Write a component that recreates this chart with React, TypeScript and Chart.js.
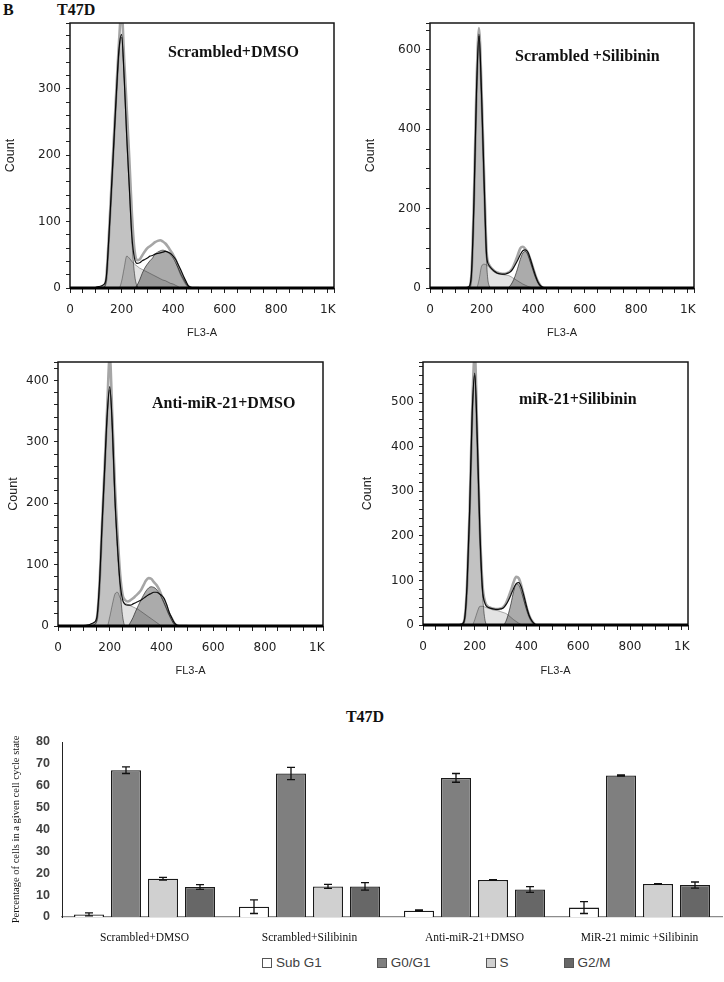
import React, { useEffect, useRef } from 'react';
import { Chart, registerables } from 'chart.js';

Chart.register(...registerables);

// ---------------- Histogram data (FL3-A channel, counts) ----------------
const FL3_X = [100, 110, 120, 130, 140, 150, 160, 170, 180, 190, 200, 210, 220, 230, 240, 250, 260, 270, 280, 290, 300, 310, 320, 330, 340, 350, 360, 370, 380, 390, 400, 410, 420, 430, 440, 450, 460, 470, 480, 490, 500];
const X_MAJOR = [0, 200, 400, 600, 800, 1000];
const X_MAJOR_LABELS = ['0', '200', '400', '600', '800', '1K'];

const PANEL_NAMES = ['Scrambled+DMSO', 'Scrambled +Silibinin', 'Anti-miR-21+DMSO', 'miR-21+Silibinin'];

// Scrambled+DMSO
const SD_G1 = [0, 0, 0, 1, 12, 70, 140, 215, 290, 355, 378, 315, 225, 150, 72, 22, 3, 0, 0, 0, 0, 0, 0, 0, 0, 0, 0, 0, 0, 0, 0, 0, 0, 0, 0, 0, 0, 0, 0, 0, 0];
const SD_S = [0, 0, 0, 0, 0, 0, 0, 0, 0, 0, 10, 30, 48, 45, 40, 36, 33, 30, 28, 26, 24, 22, 20, 18, 16, 14, 12, 11, 9, 7, 6, 4, 2, 0, 0, 0, 0, 0, 0, 0, 0];
const SD_G2 = [0, 0, 0, 0, 0, 0, 0, 0, 0, 0, 0, 0, 0, 0, 0, 0, 4, 12, 22, 30, 36, 41, 45, 51, 54, 56, 57, 56, 54, 50, 45, 38, 30, 21, 14, 7, 2, 0, 0, 0, 0];
const SD_DATA = [1, 2, 3, 5, 14, 72, 145, 220, 295, 360, 382, 318, 228, 152, 78, 45, 37, 38, 41, 43, 45, 48, 49, 51, 52, 53, 54, 55, 54, 52, 48, 43, 35, 27, 18, 10, 3, 1, 0, 0, 0];
const SD_FIT = [0, 0, 1, 2, 13, 73, 148, 225, 300, 370, 420, 345, 270, 195, 112, 58, 42, 43, 49, 55, 60, 63, 66, 69, 71, 72, 70, 67, 62, 56, 50, 42, 32, 22, 14, 7, 2, 0, 0, 0, 0];

// Scrambled +Silibinin
const SS_G1 = [0, 0, 0, 0, 0, 0, 25, 200, 480, 635, 480, 260, 60, 5, 0, 0, 0, 0, 0, 0, 0, 0, 0, 0, 0, 0, 0, 0, 0, 0, 0, 0, 0, 0, 0, 0, 0, 0, 0, 0, 0];
const SS_S = [0, 0, 0, 0, 0, 0, 0, 0, 0, 20, 55, 60, 58, 52, 45, 40, 37, 35, 34, 33, 32, 30, 26, 22, 18, 14, 10, 7, 4, 2, 0, 0, 0, 0, 0, 0, 0, 0, 0, 0, 0];
const SS_G2 = [0, 0, 0, 0, 0, 0, 0, 0, 0, 0, 0, 0, 0, 0, 0, 0, 0, 0, 0, 0, 0, 5, 15, 30, 50, 72, 88, 92, 84, 65, 45, 26, 12, 4, 0, 0, 0, 0, 0, 0, 0];
const SS_DATA = [0, 0, 0, 0, 1, 3, 30, 210, 490, 640, 490, 270, 80, 56, 48, 42, 38, 36, 35, 35, 37, 40, 47, 58, 70, 84, 94, 96, 90, 72, 50, 30, 14, 5, 1, 0, 0, 0, 0, 0, 0];
const SS_FIT = [0, 0, 0, 0, 0, 1, 28, 215, 500, 655, 500, 280, 88, 58, 49, 43, 39, 37, 36, 36, 38, 42, 50, 65, 82, 100, 104, 98, 88, 70, 50, 30, 15, 5, 1, 0, 0, 0, 0, 0, 0];

// Anti-miR-21+DMSO
const AD_G1 = [0, 0, 0, 0, 2, 10, 64, 160, 250, 340, 385, 320, 200, 120, 60, 15, 0, 0, 0, 0, 0, 0, 0, 0, 0, 0, 0, 0, 0, 0, 0, 0, 0, 0, 0, 0, 0, 0, 0, 0, 0];
const AD_S = [0, 0, 0, 0, 0, 0, 0, 0, 0, 0, 15, 35, 52, 55, 46, 40, 37, 35, 33, 31, 29, 27, 24, 21, 18, 15, 12, 9, 6, 3, 0, 0, 0, 0, 0, 0, 0, 0, 0, 0, 0];
const AD_G2 = [0, 0, 0, 0, 0, 0, 0, 0, 0, 0, 0, 0, 0, 0, 0, 0, 0, 0, 6, 14, 24, 33, 42, 50, 57, 62, 64, 63, 60, 54, 47, 38, 28, 18, 9, 3, 0, 0, 0, 0, 0];
const AD_DATA = [0, 1, 2, 4, 6, 14, 68, 165, 255, 345, 390, 325, 210, 130, 70, 42, 35, 34, 34, 36, 38, 40, 42, 45, 48, 51, 53, 55, 55, 53, 50, 45, 35, 22, 13, 5, 1, 0, 0, 0, 0];
const AD_FIT = [0, 0, 1, 2, 4, 12, 66, 165, 258, 355, 440, 340, 230, 150, 85, 50, 42, 40, 42, 45, 49, 53, 58, 66, 74, 78, 77, 72, 67, 60, 50, 40, 30, 20, 12, 4, 1, 0, 0, 0, 0];

// miR-21+Silibinin
const MS_G1 = [0, 0, 0, 0, 0, 0, 10, 86, 250, 470, 560, 410, 200, 70, 10, 0, 0, 0, 0, 0, 0, 0, 0, 0, 0, 0, 0, 0, 0, 0, 0, 0, 0, 0, 0, 0, 0, 0, 0, 0, 0];
const MS_S = [0, 0, 0, 0, 0, 0, 0, 0, 0, 0, 12, 30, 42, 42, 40, 38, 36, 34, 33, 32, 30, 28, 26, 22, 17, 12, 8, 4, 1, 0, 0, 0, 0, 0, 0, 0, 0, 0, 0, 0, 0];
const MS_G2 = [0, 0, 0, 0, 0, 0, 0, 0, 0, 0, 0, 0, 0, 0, 0, 0, 0, 0, 0, 0, 0, 0, 8, 25, 48, 75, 92, 90, 75, 55, 36, 20, 9, 3, 0, 0, 0, 0, 0, 0, 0];
const MS_DATA = [0, 0, 0, 0, 1, 2, 12, 90, 255, 475, 565, 415, 210, 80, 48, 40, 38, 36, 35, 35, 36, 38, 45, 55, 68, 82, 93, 95, 85, 65, 42, 22, 10, 3, 0, 0, 0, 0, 0, 0, 0];
const MS_FIT = [0, 0, 0, 0, 0, 1, 12, 88, 255, 480, 610, 420, 215, 90, 52, 42, 39, 37, 36, 36, 37, 40, 48, 62, 78, 96, 108, 105, 88, 64, 40, 22, 10, 3, 0, 0, 0, 0, 0, 0, 0];

// ---------------- Bar chart data ----------------
const BAR_CATEGORIES = ['Scrambled+DMSO', 'Scrambled+Silibinin', 'Anti-miR-21+DMSO', 'MiR-21 mimic +Silibinin'];
const BAR_SERIES = ['Sub G1', 'G0/G1', 'S', 'G2/M'];
const SUB_G1 = [1.2, 4.7, 2.9, 4.3];
const SUB_G1_ERR = [0.7, 3.1, 0.3, 2.7];
const G0_G1 = [67.1, 65.6, 63.6, 64.7];
const G0_G1_ERR = [1.5, 2.8, 2.0, 0.3];
const S_PHASE = [17.5, 14.0, 16.9, 15.1];
const S_PHASE_ERR = [0.6, 0.9, 0.2, 0.2];
const G2_M = [13.7, 14.0, 12.6, 14.6];
const G2_M_ERR = [1.1, 1.7, 1.3, 1.4];

// ---------------- Styles ----------------
const SANS = '"Liberation Sans", Arial, sans-serif';
const WIDE_SANS = '"DejaVu Sans", Verdana, sans-serif';
const SERIF = '"Liberation Serif", "Times New Roman", serif';
const BAR_COLORS = ['#ffffff', '#7f7f7f', '#d0d0d0', '#676767'];

type Frame = { l: number; t: number; r: number; b: number };
type PanelProps = {
  left: number; top: number; width: number; height: number; frame: Frame;
  yMax: number; yMinor: number; yMajor: number;
  g1: number[]; s: number[]; g2: number[]; data: number[]; fit: number[];
};

const multiplyPlugin = {
  id: 'multiplyBlend',
  beforeDatasetsDraw(chart: any) {
    chart.ctx.save();
    chart.ctx.globalCompositeOperation = 'multiply';
  },
  afterDatasetsDraw(chart: any) {
    chart.ctx.restore();
  },
};

const framePlugin = {
  id: 'plotFrame',
  afterDraw(chart: any) {
    const { ctx, chartArea: a } = chart;
    ctx.save();
    ctx.strokeStyle = '#161616';
    ctx.lineWidth = 1.5;
    ctx.strokeRect(a.left, a.top, a.right - a.left, a.bottom - a.top);
    ctx.lineWidth = 3;
    ctx.strokeStyle = '#000';
    ctx.beginPath();
    ctx.moveTo(a.left, a.bottom);
    ctx.lineTo(a.right, a.bottom);
    ctx.stroke();
    ctx.restore();
  },
};

function Histogram(p: PanelProps) {
  const ref = useRef<HTMLCanvasElement>(null);
  useEffect(() => {
    const toXY = (arr: number[]) => FL3_X.map((x, i) => ({ x, y: arr[i] }));
    const line = { pointRadius: 0, cubicInterpolationMode: 'monotone' as const };
    const chart = new Chart(ref.current as HTMLCanvasElement, {
      type: 'line',
      data: {
        datasets: [
          { label: 'data', data: toXY(p.data), borderColor: '#111111', borderWidth: 1.2, fill: false, ...line },
          { label: 'fit', data: toXY(p.fit), borderColor: '#a6a6a6', borderWidth: 2.6, fill: false, ...line },
          { label: 'G2/M', data: toXY(p.g2), borderColor: '#707070', borderWidth: 1, fill: 'origin', backgroundColor: '#ababab', ...line },
          { label: 'S', data: toXY(p.s), borderColor: '#adadad', borderWidth: 1, fill: 'origin', backgroundColor: '#e3e3e3', ...line },
          { label: 'G0/G1', data: toXY(p.g1), borderColor: '#858585', borderWidth: 1, fill: 'origin', backgroundColor: '#c2c2c2', ...line },
        ],
      } as any,
      options: {
        responsive: false,
        animation: false,
        layout: { padding: { left: 0, top: p.frame.t - p.top, right: p.left + p.width - p.frame.r, bottom: 0 } },
        plugins: { legend: { display: false }, tooltip: { enabled: false } },
        scales: {
          x: {
            type: 'linear', min: 0, max: 1024, bounds: 'data',
            afterFit: (s: any) => { s.height = p.top + p.height - p.frame.b; s.paddingLeft = 0; s.paddingRight = 0; },
            border: { display: false },
            grid: { display: true, drawOnChartArea: false, drawTicks: true, tickLength: 5, color: '#222', tickColor: '#222' },
            ticks: {
              stepSize: 50, autoSkip: false, includeBounds: false, maxRotation: 0, padding: 10, color: '#222',
              font: { family: WIDE_SANS, size: 12 },
              callback: (v: any) => { const k = X_MAJOR.indexOf(Number(v)); return k >= 0 ? X_MAJOR_LABELS[k] : ''; },
            },
            title: { display: true, text: 'FL3-A', color: '#222', font: { family: SANS, size: 11 }, padding: { top: 0, bottom: 4 } },
          },
          y: {
            type: 'linear', min: 0, max: p.yMax, bounds: 'data',
            afterFit: (s: any) => { s.width = p.frame.l - p.left; s.paddingTop = 0; s.paddingBottom = 0; },
            border: { display: false },
            grid: { display: true, drawOnChartArea: false, drawTicks: true, tickLength: 4, color: '#222', tickColor: '#222' },
            ticks: {
              stepSize: p.yMinor, autoSkip: false, includeBounds: false, padding: 5, color: '#222',
              font: { family: WIDE_SANS, size: 12 },
              callback: (v: any) => (Number(v) % p.yMajor === 0 ? String(v) : ''),
            },
            title: { display: true, text: 'Count', color: '#222', font: { family: SANS, size: 12.5 }, padding: { top: 0, bottom: 0 } },
          },
        },
      } as any,
      plugins: [multiplyPlugin, framePlugin],
    });
    return () => chart.destroy();
  }, []);
  return (
    <canvas ref={ref} width={p.width} height={p.height}
      style={{ position: 'absolute', left: p.left, top: p.top, width: p.width, height: p.height }} />
  );
}

const errorBarPlugin = {
  id: 'errorBars',
  afterDatasetsDraw(chart: any) {
    const { ctx } = chart;
    const yScale = chart.scales.y;
    ctx.save();
    ctx.strokeStyle = '#111';
    ctx.lineWidth = 1.3;
    chart.data.datasets.forEach((ds: any, i: number) => {
      const meta = chart.getDatasetMeta(i);
      meta.data.forEach((bar: any, j: number) => {
        const v = ds.data[j];
        const e = ds.errors[j];
        const x = bar.x;
        const y1 = yScale.getPixelForValue(v + e);
        const y2 = yScale.getPixelForValue(Math.max(0, v - e));
        ctx.beginPath();
        ctx.moveTo(x, y1); ctx.lineTo(x, y2);
        ctx.moveTo(x - 4, y1); ctx.lineTo(x + 4, y1);
        ctx.moveTo(x - 4, y2); ctx.lineTo(x + 4, y2);
        ctx.stroke();
      });
    });
    ctx.restore();
  },
};

function BarChart() {
  const ref = useRef<HTMLCanvasElement>(null);
  useEffect(() => {
    const values = [SUB_G1, G0_G1, S_PHASE, G2_M];
    const errors = [SUB_G1_ERR, G0_G1_ERR, S_PHASE_ERR, G2_M_ERR];
    const chart = new Chart(ref.current as HTMLCanvasElement, {
      type: 'bar',
      data: {
        labels: BAR_CATEGORIES,
        datasets: BAR_SERIES.map((name, i) => ({
          label: name, data: values[i], errors: errors[i],
          backgroundColor: BAR_COLORS[i], borderColor: '#1a1a1a', borderWidth: 1.3,
          categoryPercentage: 0.897, barPercentage: 0.811,
        })),
      } as any,
      options: {
        responsive: false,
        animation: false,
        layout: { padding: { left: 0, top: 42, right: 2, bottom: 0 } },
        plugins: { legend: { display: false }, tooltip: { enabled: false } },
        scales: {
          x: {
            afterFit: (s: any) => { s.height = 33; s.paddingLeft = 0; s.paddingRight = 0; },
            border: { display: true, color: '#8c8c8c', width: 1.2 },
            grid: { display: false, drawTicks: false },
            ticks: { padding: 14, color: '#111', font: { family: SERIF, size: 11.5 }, maxRotation: 0, autoSkip: false },
          },
          y: {
            min: 0, max: 80,
            afterFit: (s: any) => { s.width = 62; s.paddingTop = 0; s.paddingBottom = 0; },
            border: { display: true, color: '#222', width: 1 },
            grid: { display: false, drawTicks: false },
            ticks: { stepSize: 10, padding: 12, color: '#404040', font: { family: SANS, size: 12.5, weight: 'bold' } },
            title: {
              display: true, text: 'Percentage of cells in a given cell cycle state', color: '#111',
              font: { family: SERIF, size: 10.5 }, padding: { top: 10, bottom: 0 },
            },
          },
        },
      } as any,
      plugins: [errorBarPlugin],
    });
    return () => chart.destroy();
  }, []);
  return (
    <canvas ref={ref} width={724} height={250}
      style={{ position: 'absolute', left: 0, top: 700, width: 724, height: 250 }} />
  );
}

const headStyle: React.CSSProperties = { position: 'absolute', fontFamily: SERIF, fontWeight: 'bold', fontSize: 16, lineHeight: '18px', color: '#111', whiteSpace: 'nowrap' };

export default function App() {
  return (
    <div style={{ position: 'absolute', left: 0, top: 0, width: 724, height: 982, background: '#fff', overflow: 'hidden' }}>
      <div style={{ ...headStyle, left: 3, top: 1 }}>B</div>
      <div style={{ ...headStyle, left: 57, top: 1 }}>T47D</div>

      <Histogram left={3} top={15} width={352} height={329} frame={{ l: 70, t: 23, r: 334, b: 288 }}
        yMax={399} yMinor={20} yMajor={100} g1={SD_G1} s={SD_S} g2={SD_G2} data={SD_DATA} fit={SD_FIT} />
      <Histogram left={363} top={15} width={357} height={329} frame={{ l: 430, t: 23, r: 694, b: 288 }}
        yMax={668} yMinor={50} yMajor={200} g1={SS_G1} s={SS_S} g2={SS_G2} data={SS_DATA} fit={SS_FIT} />
      <Histogram left={6} top={354} width={340} height={328} frame={{ l: 58, t: 362, r: 323, b: 626 }}
        yMax={430} yMinor={20} yMajor={100} g1={AD_G1} s={AD_S} g2={AD_G2} data={AD_DATA} fit={AD_FIT} />
      <Histogram left={360} top={354} width={352} height={328} frame={{ l: 423, t: 362, r: 688, b: 625 }}
        yMax={590} yMinor={20} yMajor={100} g1={MS_G1} s={MS_S} g2={MS_G2} data={MS_DATA} fit={MS_FIT} />

      <div style={{ ...headStyle, left: 168, top: 43 }}>{PANEL_NAMES[0]}</div>
      <div style={{ ...headStyle, left: 515, top: 47 }}>{PANEL_NAMES[1]}</div>
      <div style={{ ...headStyle, left: 152, top: 394 }}>{PANEL_NAMES[2]}</div>
      <div style={{ ...headStyle, left: 519, top: 390 }}>{PANEL_NAMES[3]}</div>

      <div style={{ ...headStyle, left: 0, width: 730, textAlign: 'center', top: 708 }}>T47D</div>
      <BarChart />

      <div style={{ position: 'absolute', left: 262, top: 955, display: 'flex', gap: 55 }}>
        {BAR_SERIES.map((name, i) => (
          <div key={name} style={{ display: 'flex', alignItems: 'center', fontFamily: SANS, fontSize: 13.5, lineHeight: '16px', color: '#404040', whiteSpace: 'nowrap' }}>
            <span style={{ display: 'inline-block', width: 8, height: 8, border: '1px solid #555', background: BAR_COLORS[i], marginRight: 4 }} />
            {name}
          </div>
        ))}
      </div>
    </div>
  );
}
